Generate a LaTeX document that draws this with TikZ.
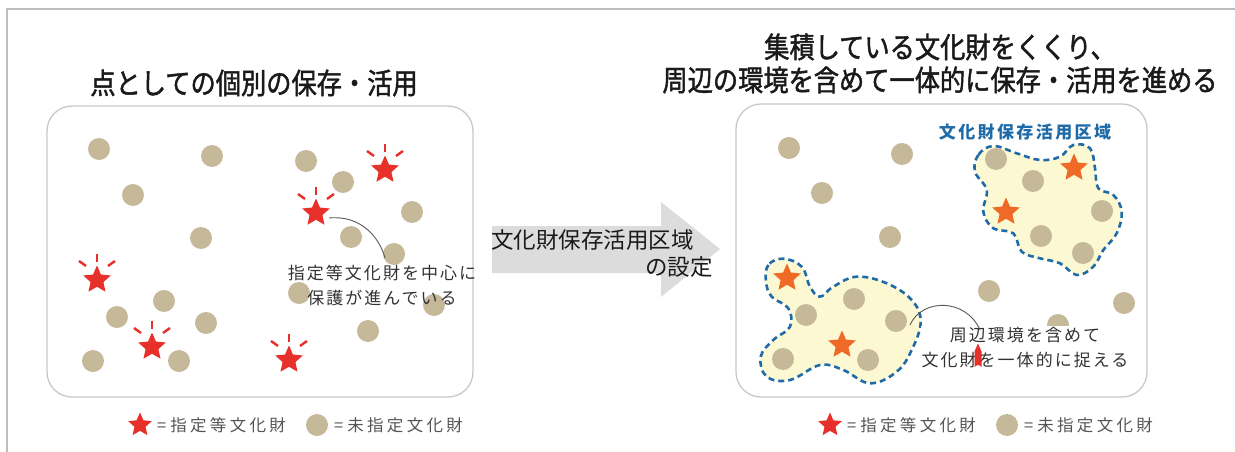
\documentclass[tikz,border=0pt]{standalone}
\usepackage{fontspec}
\usetikzlibrary{shapes.geometric}
\newfontfamily\jp{Noto Sans CJK JP}
\newfontfamily\jptitle[FakeStretch=0.87,FakeBold=1.5]{Noto Sans CJK JP}
\newfontfamily\jpcall[LetterSpace=12]{Noto Sans CJK JP}
\newfontfamily\jpleg[LetterSpace=20]{Noto Sans CJK JP}
\newfontfamily\jparea[LetterSpace=14]{Noto Sans CJK JP}
\definecolor{dotc}{HTML}{C6B999}
\definecolor{redc}{HTML}{E8302A}
\definecolor{orc}{HTML}{EE6A26}
\definecolor{bluec}{HTML}{1F6BA8}
\definecolor{areac}{HTML}{FCF8D2}
\definecolor{panelc}{HTML}{C8C8C8}
\definecolor{framec}{HTML}{BDBDBD}
\definecolor{arrowc}{HTML}{DCDCDC}
\definecolor{txtc}{HTML}{333333}
\definecolor{legc}{HTML}{555555}
\definecolor{titc}{HTML}{1A1A1A}
\newcommand\starrays[1]{%
  \draw[rayline] ([shift={(0,-26)}]#1.center) -- ([shift={(0,-18)}]#1.center);
  \draw[rayline] ([shift={(-18,-19)}]#1.center) -- ([shift={(-11,-14)}]#1.center);
  \draw[rayline] ([shift={(18,-19)}]#1.center) -- ([shift={(11,-14)}]#1.center);}
\begin{document}
\begin{tikzpicture}[x=1pt,y=-1pt,
  tandot/.style={circle,fill=dotc,minimum size=22pt,inner sep=0pt},
  rstar/.style={star,star points=5,star point ratio=2.15,fill=redc,minimum size=29pt,inner sep=0pt},
  ostar/.style={rstar,fill=orc},
  legstar/.style={rstar,minimum size=25pt},
  rayline/.style={redc,line width=2.4pt},
  panelbox/.style={draw=panelc,line width=1.3pt,rounded corners=25pt},
  zone/.style={draw=bluec,fill=areac,line width=2.6pt,dash pattern=on 6pt off 4pt},
  callout/.style={draw=black!65,line width=0.9pt},
  titletext/.style={inner sep=0pt,text=titc,font=\jptitle\fontsize{29pt}{33pt}\selectfont},
  calltext/.style={inner sep=0pt,text=txtc,align=center,font=\jpcall\fontsize{17pt}{25pt}\selectfont},
  legtext/.style={inner sep=0pt,anchor=west,text=legc,font=\jpleg\fontsize{16.5pt}{19pt}\selectfont},
  arrowtext/.style={inner sep=0pt,text=titc,font=\jp\fontsize{22.5pt}{26pt}\selectfont},
  zonetext/.style={inner sep=0pt,text=bluec,font=\jparea\bfseries\fontsize{17pt}{20pt}\selectfont}]
\useasboundingbox (0,0) rectangle (1235,452);
\fill[white] (0,0) rectangle (1235,452);
\draw[framec,line width=2.5pt] (1235,9) -- (7,9) -- (7,452);

% titles
\node[titletext] (t1) at (254,83) {点としての個別の保存・活用};
\node[titletext,align=center] (t2) at (940,63.5) {集積している文化財をくくり、\\周辺の環境を含めて一体的に保存・活用を進める};

% panels
\draw[panelbox] (47,106) rectangle (473,397);
\draw[panelbox] (736,104) rectangle (1147,397);

% big arrow
\fill[arrowc] (492,226) -- (661,226) -- (661,202) -- (720,249) -- (661,297) -- (661,273) -- (492,273) -- cycle;
\node[arrowtext,anchor=west] (a1) at (491,240) {文化財保存活用区域};
\node[arrowtext,anchor=east] (a2) at (713,267) {の設定};

% ---- left panel
\foreach \p [count=\i] in {(99,149),(212,156),(133,195),(201,238),(306,161),(343,182),(412,212),(351,237),(394,254),(164,301),(117,317),(206,323),(93,361),(179,361),(299,293),(434,305),(368,331)}
  \node[tandot] (ld\i) at \p {};
\node[rstar] (ls1) at (385,170) {};
\node[rstar] (ls2) at (316,213) {};
\node[rstar] (ls3) at (97,280) {};
\node[rstar] (ls4) at (152,347) {};
\node[rstar] (ls5) at (289,360) {};
\foreach \n in {ls1,ls2,ls3,ls4,ls5} {\starrays{\n}}
\node[calltext] (lc) at (382,285.5) {指定等文化財を中心に\\保護が進んでいる};
\coordinate (lcs) at (329,218);
\coordinate (lce) at (385,258);
\draw[callout] (lcs) .. controls (360,215) and (379,236) .. (lce);

% ---- right panel
\draw[zone] plot[smooth cycle,tension=0.65] coordinates {(993.3,146) (978.3,155) (975,171.7) (986.7,190) (983.3,211.7) (993.3,228.3) (1013.3,233.3) (1021.7,251.7) (1040,258.3) (1060,263.3) (1076.7,275) (1093.3,266.7) (1103.3,250) (1116.7,233.3) (1121.7,211.7) (1113.3,195) (1098.3,188.3) (1095,168.3) (1090,148.3) (1073.3,145) (1060,156.7) (1040,160) (1016.7,153.3)};
\draw[zone] plot[smooth cycle,tension=0.65] coordinates {(783.3,258.7) (768.3,265) (766,281.7) (771.7,296.7) (788.3,308.3) (790,326.7) (773.3,340) (760.7,356.7) (766.7,376.7) (790,380) (820,365) (843.3,370) (870,383.3) (896.7,371.7) (911.7,350) (920.7,321.7) (911.7,300) (886.7,283.3) (856.7,276.7) (833.3,286.7) (820,296.7) (810,286.7) (801.7,266.7)};
\node[zonetext] (zl) at (1025,132) {文化財保存活用区域};
\foreach \p [count=\i] in {(789,148),(902,154),(822,193),(890,237),(989,291),(1124,303),(1058,325),(996,159),(1033,181),(1102,211),(1041,236),(1083,253),(854,299),(806,315),(896,321),(783,359),(868,360)}
  \node[tandot] (rd\i) at \p {};
\node[ostar] (rs1) at (1074,168) {};
\node[ostar] (rs2) at (1006,212) {};
\node[ostar] (rs3) at (787,278) {};
\node[ostar] (rs4) at (842,345) {};
\node[calltext,fill=white,inner sep=1pt] (rc) at (1025,347.5) {周辺環境を含めて\\文化財を一体的に捉える};
\begin{scope}
  \clip (974.5,344) rectangle (981.5,372);
  \node[rstar] (rs5) at (978,358) {};
\end{scope}
\coordinate (rcs) at (910,325);
\coordinate (rce) at (980,330);
\draw[callout] (rcs) .. controls (922,298) and (966,298) .. (rce);

% ---- legends
\node[legstar] (lk1) at (140,425) {};
\node[legtext] (lk1t) at (157,425) {=\kern4pt指定等文化財};
\node[tandot] (lk2) at (317,425) {};
\node[legtext] (lk2t) at (334,425) {=\kern4pt未指定文化財};
\node[legstar] (rk1) at (830,425) {};
\node[legtext] (rk1t) at (847,425) {=\kern4pt指定等文化財};
\node[tandot] (rk2) at (1007,425) {};
\node[legtext] (rk2t) at (1024,425) {=\kern4pt未指定文化財};
\end{tikzpicture}
\end{document}
